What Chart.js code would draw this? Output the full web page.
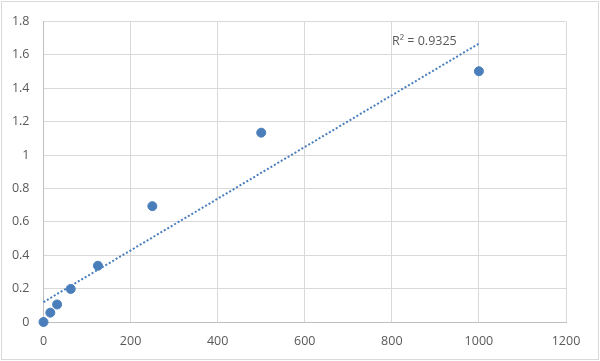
<!DOCTYPE html>
<html>
<head>
<meta charset="utf-8">
<script src="https://cdn.jsdelivr.net/npm/chart.js@4"></script>
<style>
  html, body { margin: 0; padding: 0; background: #fff; }
  #wrap { width: 600px; height: 361px; position: relative; }
</style>
</head>
<body>
<div id="wrap"><canvas id="chart" width="600" height="361"></canvas></div>
<script>
const concentrations = [0, 15.625, 31.25, 62.5, 125, 250, 500, 1000];
const readings = [0, 0.056, 0.105, 0.198, 0.337, 0.694, 1.134, 1.502];
const xTicks = [0, 200, 400, 600, 800, 1000, 1200];
const yTicks = [0, 0.2, 0.4, 0.6, 0.8, 1, 1.2, 1.4, 1.6, 1.8];
const rSquaredLabel = 'R² = 0.9325';

// least squares fit, same as the spreadsheet trendline
function linearFit(xs, ys) {
  const n = xs.length;
  const mx = xs.reduce((a, b) => a + b, 0) / n;
  const my = ys.reduce((a, b) => a + b, 0) / n;
  let sxy = 0, sxx = 0;
  xs.forEach((x, i) => {
    sxy += (x - mx) * (ys[i] - my);
    sxx += (x - mx) * (x - mx);
  });
  const slope = sxy / sxx;
  return { slope, intercept: my - slope * mx };
}

const fit = linearFit(concentrations, readings);
const xFirst = concentrations[0];
const xLast = concentrations[concentrations.length - 1];
const trendPoints = [
  { x: xFirst, y: fit.intercept + fit.slope * xFirst },
  { x: xLast, y: fit.intercept + fit.slope * xLast },
];

const points = concentrations.map((x, i) => ({ x, y: readings[i] }));

const tickFont = { family: '"Open Sans", "Liberation Sans", sans-serif', size: 12.5 };

const frame = {
  id: 'frame',
  afterDraw(chart) {
    const { ctx } = chart;
    ctx.save();
    ctx.strokeStyle = '#d9d9d9';
    ctx.lineWidth = 1;
    ctx.strokeRect(1.5, 1.5, chart.width - 3, chart.height - 3);
    ctx.fillStyle = '#595959';
    ctx.font = '12.5px "Open Sans", "Liberation Sans", sans-serif';
    ctx.textBaseline = 'middle';
    ctx.fillText(rSquaredLabel, 392, 41);
    ctx.restore();
  },
};

new Chart(document.getElementById('chart'), {
  type: 'scatter',
  data: {
    datasets: [
      {
        type: 'line',
        data: trendPoints,
        borderColor: '#4a7ebb',
        borderWidth: 2,
        borderDash: [2, 2],
        pointRadius: 0,
        fill: false,
        clip: false,
      },
      {
        data: points,
        backgroundColor: '#4a7ebb',
        borderColor: '#4a7ebb',
        pointRadius: 4.5,
        pointHoverRadius: 4.5,
        clip: false,
      },
    ],
  },
  options: {
    responsive: false,
    animation: false,
    layout: { padding: { left: 0, right: 34, top: 19, bottom: 0 } },
    plugins: { legend: { display: false }, tooltip: { enabled: false } },
    scales: {
      x: {
        type: 'linear',
        min: 0,
        max: 1200,
        afterBuildTicks: (scale) => { scale.ticks = xTicks.map((v) => ({ value: v })); },
        afterFit: (scale) => { scale.height = 39; },
        grid: { color: '#d9d9d9', drawTicks: false },
        border: { color: '#bfbfbf' },
        ticks: {
          color: '#595959',
          padding: 12,
          maxRotation: 0,
          font: tickFont,
          callback: (v) => String(v),
        },
      },
      y: {
        type: 'linear',
        min: 0,
        max: 1.8,
        afterBuildTicks: (scale) => { scale.ticks = yTicks.map((v) => ({ value: v })); },
        afterFit: (scale) => { scale.width = 43.5; },
        grid: { color: '#d9d9d9', drawTicks: false },
        border: { color: '#bfbfbf' },
        ticks: {
          color: '#595959',
          padding: 14,
          font: tickFont,
          callback: (v) => String(Math.round(v * 10) / 10),
        },
      },
    },
  },
  plugins: [frame],
});
</script>
</body>
</html>
